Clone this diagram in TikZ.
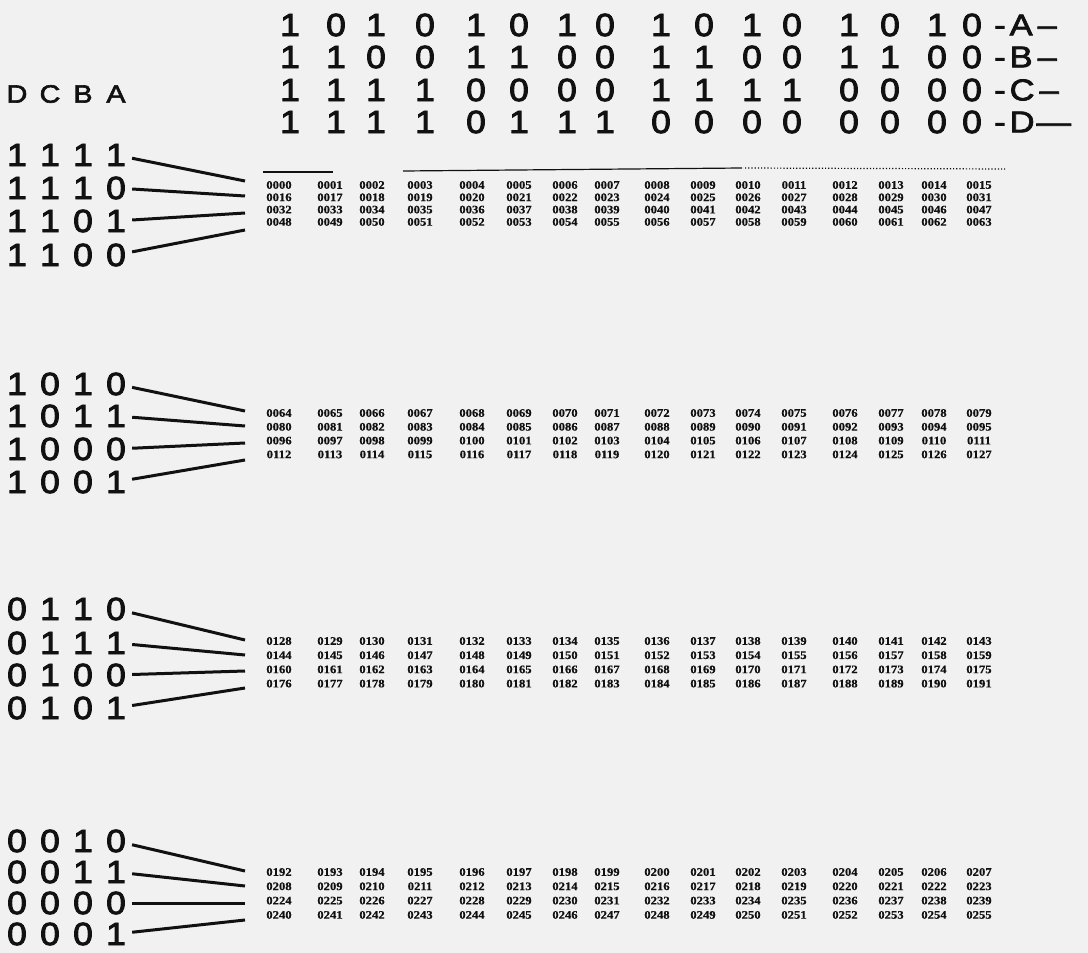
\documentclass[tikz,border=0pt]{standalone}
\usepackage{fontspec}
\newfontfamily\bitfont[FakeStretch=1.1,FakeBold=3]{Liberation Sans}
\newfontfamily\lblfont[FakeStretch=1.15,FakeBold=2.5]{Liberation Sans}
\newfontfamily\numfont[FakeStretch=1.1,FakeBold=0.5]{Liberation Serif}
\definecolor{bgc}{HTML}{F1F1F1}
\definecolor{ink}{HTML}{111111}
\newcommand{\padnum}[1]{\ifnum#1<10 000\else\ifnum#1<100 00\else 0\fi\fi#1}
\tikzset{
  bitd/.style={font=\bitfont\fontsize{32}{32}\selectfont, text=ink, inner sep=0pt, minimum width=20pt},
  lblt/.style={font=\lblfont\fontsize{25}{25}\selectfont, text=ink, inner sep=0pt},
  rlblt/.style={font=\lblfont\fontsize{30}{30}\selectfont, text=ink, inner sep=0pt, anchor=west},
  numt/.style={font=\numfont\bfseries\fontsize{11.5}{11.5}\selectfont, text=ink, inner sep=0pt},
  connl/.style={draw=ink, line width=3pt, shorten <=6pt},
  rulel/.style={draw=ink, line width=1.2pt}
}
\begin{document}
\begin{tikzpicture}[x=1pt,y=-1pt]
\fill[bgc] (0,0) rectangle (1088,953);
\useasboundingbox (0,0) rectangle (1088,953);
% header bits
\foreach \x/\va/\vb/\vc/\vd [count=\i] in {290/1/1/1/1, 336/0/1/1/1, 376/1/0/1/1, 425/0/0/1/1, 476/1/1/0/0, 519/0/1/0/1, 567/1/0/0/1, 605/0/0/0/1, 661/1/1/1/0, 704/0/1/1/0, 752/1/0/1/0, 792/0/0/1/0, 849/1/1/0/0, 890/0/1/0/0, 937/1/0/0/0, 972/0/0/0/0}{
  \node[bitd] (hA\i) at (\x,25) {\va};
  \node[bitd] (hB\i) at (\x,57) {\vb};
  \node[bitd] (hC\i) at (\x,90) {\vc};
  \node[bitd] (hD\i) at (\x,122) {\vd};
}
% right labels
\node[rlblt] (labA) at (994,25) {-\kern4pt A\kern5pt–};
\node[rlblt] (labB) at (994,57) {-\kern4pt B\kern5pt–};
\node[rlblt] (labC) at (994,90) {-\kern4pt C\kern5pt–};
\node[rlblt] (labD) at (994,122) {-\kern4pt D\kern2pt—};
% left header
\node[lblt] (lD) at (17,94) {D};
\node[lblt] (lC) at (50,94) {C};
\node[lblt] (lB) at (83,94) {B};
\node[lblt] (lA) at (116,94) {A};
% left bit rows and connectors
\foreach \k/\y/\vd/\vc/\vb/\va/\ey in {
  11/155/1/1/1/1/181, 12/188/1/1/1/0/196, 13/221/1/1/0/1/213, 14/255/1/1/0/0/230,
  21/384/1/0/1/0/411, 22/416/1/0/1/1/426, 23/449/1/0/0/0/443, 24/482/1/0/0/1/460,
  31/609/0/1/1/0/640, 32/643/0/1/1/1/655, 33/675/0/1/0/0/671, 34/708/0/1/0/1/688,
  41/841/0/0/1/0/871, 42/872/0/0/1/1/886, 43/903/0/0/0/0/903, 44/934/0/0/0/1/920}{
  \node[bitd] (bD\k) at (17,\y) {\vd};
  \node[bitd] (bC\k) at (50,\y) {\vc};
  \node[bitd] (bB\k) at (83,\y) {\vb};
  \node[bitd] (bA\k) at (116,\y) {\va};
  \coordinate (e\k) at (245,\ey);
  \draw[connl] (bA\k) -- (e\k);
}
% tables
\foreach \blk/\ty/\sp in {0/185/12.3, 1/413/13.8, 2/641/14.2, 3/872/14.3}{
  \foreach \rr in {0,1,2,3}{
    \foreach \x [count=\cc from 0] in {279,330,372,420,472,519,565,607,657,703,748,794,845,891,934,979}{
      \pgfmathtruncatemacro\nn{64*\blk+16*\rr+\cc}
      \pgfmathsetmacro\yy{\ty+\rr*\sp}
      \node[numt] (t\blk-\rr-\cc) at (\x,\yy) {\padnum{\nn}};
    }
  }
}
% rule above first table
\draw[rulel] (263,172) -- (333,172);
\draw[rulel] (403,171) -- (742,168);
\draw[rulel, dotted] (745,168) -- (1005,169);
\end{tikzpicture}
\end{document}
